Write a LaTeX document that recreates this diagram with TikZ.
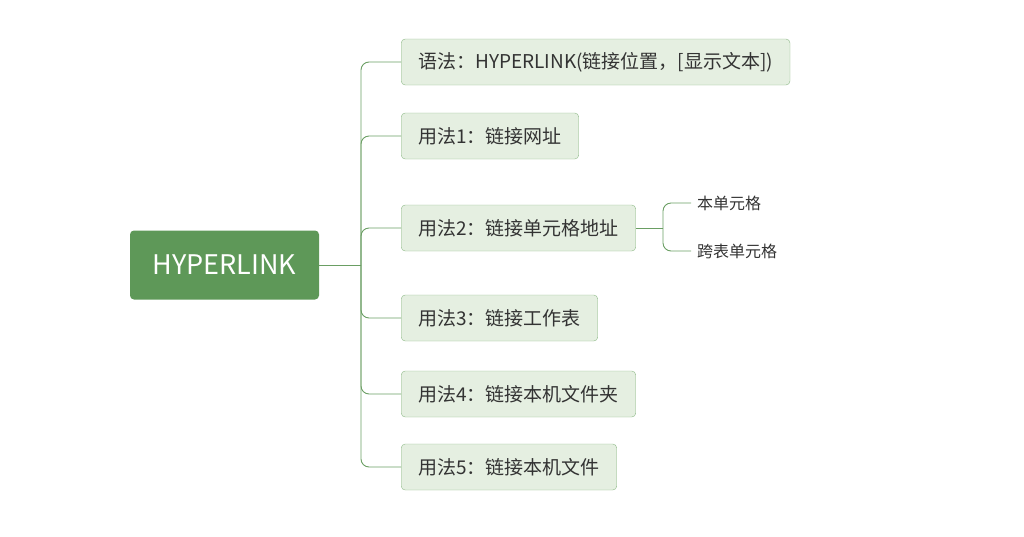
\documentclass[tikz,border=0pt]{standalone}
\usepackage{fontspec}
\setmainfont{Noto Sans CJK SC}
\usetikzlibrary{positioning}
\definecolor{rootgreen}{HTML}{5E9858}
\definecolor{boxfill}{HTML}{E5EFE1}
\definecolor{boxline}{HTML}{8DB886}
\definecolor{linkgreen}{HTML}{6A9E63}
\definecolor{txt}{HTML}{333333}
\tikzset{
  root/.style={fill=rootgreen, rounded corners=4pt, text=white, font=\fontsize{27pt}{30pt}\selectfont, minimum width=189pt, minimum height=69pt},
  topic/.style={draw=boxline, fill=boxfill, rounded corners=4pt, text=txt, font=\fontsize{19pt}{22pt}\selectfont, minimum height=46pt, inner xsep=17pt, anchor=west},
  leaf/.style={text=txt, font=\fontsize{16pt}{18pt}\selectfont, anchor=west, inner sep=0pt},
  link/.style={draw=linkgreen, line width=0.9pt, rounded corners=8pt},
}
\begin{document}
\begin{tikzpicture}[x=1pt,y=-1pt]
  \useasboundingbox (0,0) rectangle (1024,536);
  \node[root] (hl) at (224.5,265) {HYPERLINK};
  \coordinate (j) at (361,265);
  \node[topic] (t1) at (401,62) {语法：HYPERLINK(链接位置，[显示文本])};
  \node[topic] (t2) at (401,136) {用法1：链接网址};
  \node[topic] (t3) at (401,228) {用法2：链接单元格地址};
  \node[topic] (t4) at (401,318) {用法3：链接工作表};
  \node[topic] (t5) at (401,394) {用法4：链接本机文件夹};
  \node[topic] (t6) at (401,467) {用法5：链接本机文件};
  \coordinate (k) at (663,228);
  \node[leaf] (l1) at (697,203) {本单元格};
  \node[leaf] (l2) at (697,251) {跨表单元格};
  % trunk
  \draw[link] (hl.east) -- (j);
  \foreach \t in {t1,t2,t3,t4,t5,t6}
    \draw[link] (j) |- (\t.west);
  % sub branch
  \draw[link] (t3.east) -- (k);
  \draw[link] (k) |- ([xshift=-6pt]l1.west);
  \draw[link] (k) |- ([xshift=-6pt]l2.west);
\end{tikzpicture}
\end{document}
